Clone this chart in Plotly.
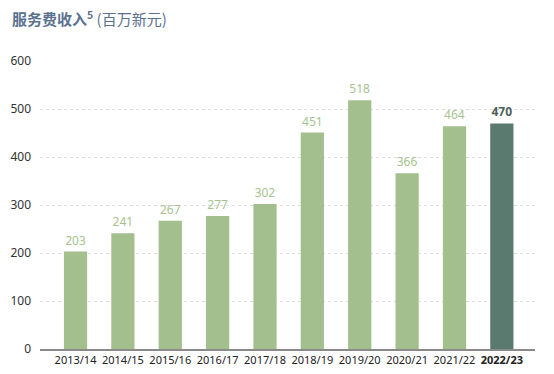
import plotly.graph_objects as go

years = ["2013/14", "2014/15", "2015/16", "2016/17", "2017/18",
         "2018/19", "2019/20", "2020/21", "2021/22", "2022/23"]
values = [203, 241, 267, 277, 302, 451, 518, 366, 464, 470]
y_ticks = [0, 100, 200, 300, 400, 500, 600]

green = "#a3bf8d"
dark = "#5b7a6f"
colors = [green] * 9 + [dark]
label_colors = ["#a6c391"] * 9 + ["#4d5f5a"]
tick_text = years[:-1] + ["<b>2022/23</b>"]
label_text = [str(v) for v in values[:-1]] + ["<b>%d</b>" % values[-1]]

fig = go.Figure()
fig.add_trace(go.Bar(
    x=list(range(len(years))), y=values,
    marker=dict(color=colors, line=dict(width=0)),
    width=0.49,
    text=label_text, textposition="outside",
    textfont=dict(color=label_colors, size=12, family="Noto Sans"),
    cliponaxis=False,
    hoverinfo="skip",
))

# page body has an 8px default margin, so the figure is sized/offset to compensate
fig.update_layout(
    width=546, height=366,
    margin=dict(l=32, r=19, t=53, b=25, autoexpand=False),
    plot_bgcolor="white", paper_bgcolor="white",
    showlegend=False,
    font=dict(family="Noto Sans", color="#333333", size=12),
    xaxis=dict(
        range=[-0.75, 9.7], automargin=False,
        tickmode="array", tickvals=list(range(len(years))), ticktext=tick_text,
        tickfont=dict(size=11, color="#222222"),
        showgrid=False, zeroline=False,
        showline=True, linecolor="#8a8a8a", linewidth=1.5,
        ticks="", ticklen=0,
    ),
    yaxis=dict(
        range=[0, 600], automargin=False,
        tickmode="array", tickvals=y_ticks,
        tickfont=dict(size=12, color="#333333"),
        showgrid=True, gridcolor="#dcdcdc", griddash="dot", gridwidth=1,
        zeroline=False, showline=False, ticks="", ticklabelstandoff=8,
    ),
    annotations=[dict(
        x=0, xref="paper", xanchor="left", y=1, yref="paper", yanchor="bottom",
        xshift=-30, yshift=30,
        text="<b>服务费收入<sup>5</sup></b> (百万新元)",
        showarrow=False,
        font=dict(size=15, color="#5b7190", family="Noto Sans CJK SC"),
    )],
)

fig.write_html("out.html")
